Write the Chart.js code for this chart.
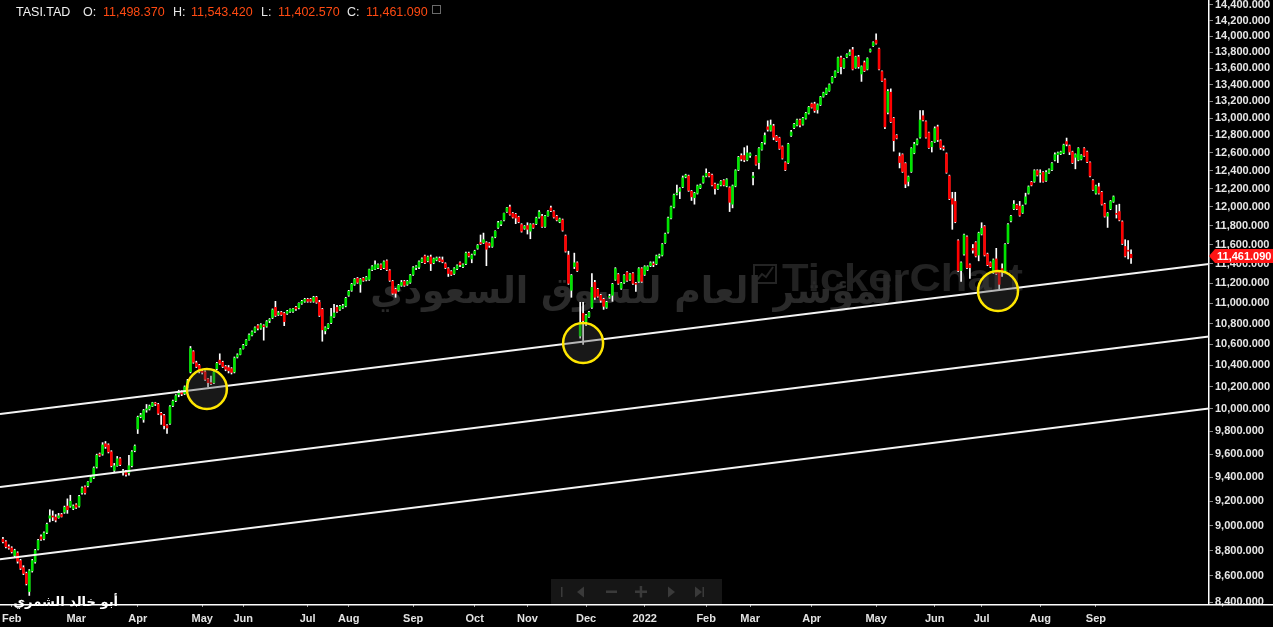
<!DOCTYPE html>
<html>
<head>
<meta charset="utf-8">
<script src="https://cdn.jsdelivr.net/npm/chart.js@4.4.1/dist/chart.umd.min.js"></script>
<style>
  html, body { margin: 0; padding: 0; background: #000; overflow: hidden; }
  canvas { display: block; }
</style>
</head>
<body>
<canvas id="chart" width="1273" height="627"></canvas>
<script>
// daily candles, late Jan 2021 -> mid Sep 2022
var opens = [
  8890, 8870, 8830, 8820, 8760, 8780, 8720, 8665, 8620, 8480,
  8640, 8710, 8810, 8910, 8895, 8945, 9060, 9075, 9070, 9065,
  9090, 9110, 9160, 9160, 9140, 9170, 9160, 9270, 9320, 9330,
  9365, 9400, 9490, 9600, 9600, 9690, 9680, 9620, 9460, 9500,
  9560, 9445, 9450, 9440, 9500, 9630,
  9820, 9930, 9905, 9990, 10000, 10025, 10050, 10040, 9960, 9940,
  9850, 9870, 10030, 10075, 10130, 10150, 10140, 10200, 10340, 10530,
  10425, 10400, 10345,
  10340, 10275, 10240, 10240, 10370, 10450, 10430, 10390, 10380, 10370,
  10340, 10480, 10505, 10560,
  10595, 10645, 10690, 10725, 10780, 10755, 10780, 10775, 10830, 10860,
  10960, 10890, 10910, 10900, 10900, 10920, 10920, 10960, 10955, 11000, 11020, 11040,
  11040, 11020, 11060, 11010, 10940, 10730, 10760, 10810, 10870, 10960, 10940, 10960, 10975, 11080,
  11130, 11190, 11250, 11190, 11250, 11235, 11240, 11340, 11345, 11360, 11390, 11360,
  11430, 11330, 11220, 11140, 11130, 11180, 11220, 11190, 11210, 11290,
  11360, 11365, 11420, 11480, 11430, 11470, 11410, 11440, 11455, 11440,
  11400, 11350, 11320, 11300, 11350, 11410, 11370, 11400,
  11510, 11450, 11500, 11560, 11620, 11620, 11620, 11610, 11580, 11680,
  11780, 11815, 11860, 11950, 12000, 11930, 11920, 11890, 11810, 11770,
  11800, 11740, 11810, 11820, 11890, 11900, 11790, 11905, 11990, 11950,
  11900, 11840, 11860, 11690, 11490, 11130, 11370, 11410, 10680, 10900,
  10820, 10870, 10960, 11210, 11140, 11080, 11040, 10960, 11060, 11080, 11240,
  11290, 11150, 11210, 11310, 11240, 11300, 11200, 11220, 11350,
  11290, 11340, 11380, 11400, 11400, 11480, 11490, 11620, 11730, 11880,
  12000, 12140, 12170, 12220, 12330, 12340, 12170, 12100, 12150, 12210,
  12270, 12340, 12370, 12350, 12250, 12200, 12240, 12290, 12230, 12210,
  12030, 12230, 12410, 12570, 12570, 12520, 12570, 12320,
  12560, 12490, 12640, 12720, 12900, 12860, 12910, 12790, 12770, 12670, 12490, 12490, 12800,
  12890, 12920, 12980, 12930, 13000, 13060, 13170, 13170, 13100, 13160,
  13260, 13290, 13330, 13430, 13500, 13560, 13730, 13610, 13740, 13770,
  13830, 13610, 13740, 13530, 13670, 13590, 13810, 13880, 13950,
  13840, 13560, 13460, 13070, 13310, 13000, 12800, 12560, 12580, 12480,
  12280, 12390, 12600, 12700, 12780, 13030, 12960, 12830, 12670, 12730,
  12900, 12740, 12660, 12590, 12340, 12090, 12060, 11640, 11330, 11500,
  11680, 11390, 11560, 11620, 11490, 11710, 11790, 11500, 11410, 11310,
  11450, 11310, 11350, 11330, 11620, 11850, 11980, 12020, 12010, 11940,
  12040, 12150, 12270, 12280, 12400, 12360, 12380, 12290, 12380, 12410,
  12520, 12580, 12590, 12600, 12730, 12680, 12610, 12550, 12520, 12530,
  12650, 12610, 12490, 12290, 12150, 12220, 12160, 12030, 11900, 11980,
  12060, 11930, 11950, 11840, 11580, 11540, 11498.37
];
var highs = [
  8905, 8880, 8845, 8830, 8810, 8790, 8730, 8680, 8630, 8650,
  8730, 8810, 8890, 8925, 8950, 9020, 9130, 9120, 9090, 9100,
  9100, 9160, 9220, 9250, 9170, 9180, 9250, 9320, 9330, 9365,
  9410, 9490, 9600, 9610, 9700, 9710, 9690, 9630, 9520, 9580,
  9570, 9470, 9460, 9590, 9630, 9680,
  9935, 9960, 9995, 10040, 10035, 10060, 10060, 10050, 9970, 9950,
  9860, 10030, 10080, 10130, 10170, 10165, 10210, 10270, 10580, 10540,
  10440, 10410, 10360,
  10350, 10280, 10300, 10350, 10430, 10510, 10440, 10400, 10400, 10380,
  10480, 10510, 10560, 10600,
  10645, 10700, 10730, 10770, 10790, 10800, 10790, 10830, 10850, 10945,
  11020, 10920, 10920, 10910, 10930, 10945, 10950, 10970, 11005, 11030, 11050, 11050,
  11050, 11070, 11070, 11030, 10950, 10770, 10800, 10950, 10990, 10980, 10980, 10990, 11060, 11130,
  11200, 11250, 11260, 11250, 11260, 11270, 11345, 11380, 11430, 11400, 11400, 11430,
  11440, 11340, 11230, 11150, 11190, 11230, 11230, 11230, 11290, 11370,
  11380, 11430, 11460, 11490, 11480, 11490, 11460, 11470, 11470, 11470,
  11410, 11360, 11330, 11360, 11390, 11420, 11400, 11520,
  11520, 11500, 11540, 11600, 11700, 11720, 11630, 11620, 11680, 11745,
  11845, 11850, 11935, 11995, 12020, 11940, 11930, 11900, 11820, 11800,
  11830, 11820, 11820, 11890, 11960, 11920, 11910, 11960, 12010, 11960,
  11910, 11880, 11870, 11700, 11530, 11290, 11510, 11420, 11010, 11010,
  10890, 10920, 11300, 11230, 11150, 11090, 11050, 11020, 11090, 11200, 11360,
  11300, 11210, 11290, 11320, 11300, 11310, 11210, 11360, 11360,
  11380, 11380, 11420, 11420, 11490, 11500, 11610, 11720, 11890, 12010,
  12140, 12240, 12210, 12340, 12360, 12350, 12180, 12160, 12240, 12250,
  12340, 12420, 12380, 12360, 12260, 12250, 12290, 12300, 12310, 12220,
  12240, 12410, 12560, 12590, 12660, 12680, 12600, 12380,
  12570, 12660, 12720, 12830, 12970, 12980, 12930, 12800, 12780, 12680, 12500, 12710, 12860,
  12940, 12990, 12990, 13010, 13070, 13140, 13180, 13190, 13170, 13260,
  13310, 13360, 13410, 13500, 13570, 13740, 13750, 13720, 13780, 13830,
  13860, 13750, 13760, 13630, 13690, 13730, 13840, 13930, 14030,
  13850, 13570, 13470, 13340, 13350, 13010, 12810, 12600, 12590, 12490,
  12340, 12660, 12720, 12760, 13090, 13090, 12970, 12840, 12730, 12900,
  12920, 12750, 12680, 12600, 12350, 12160, 12160, 11650, 11420, 11710,
  11690, 11400, 11600, 11630, 11730, 11830, 11800, 11510, 11420, 11450,
  11560, 11320, 11400, 11610, 11820, 11910, 12070, 12030, 12060, 12020,
  12150, 12230, 12280, 12410, 12410, 12410, 12390, 12400, 12420, 12490,
  12600, 12610, 12620, 12700, 12770, 12690, 12620, 12590, 12660, 12580,
  12660, 12620, 12500, 12300, 12240, 12260, 12170, 12040, 11940, 12070,
  12120, 12020, 12030, 11850, 11650, 11640, 11543.42
];
var lows = [
  8860, 8820, 8810, 8780, 8750, 8700, 8650, 8610, 8530, 8450,
  8630, 8700, 8805, 8880, 8885, 8935, 9030, 9040, 9030, 9060,
  9070, 9100, 9100, 9150, 9130, 9140, 9150, 9260, 9260, 9320,
  9360, 9390, 9480, 9580, 9590, 9650, 9610, 9490, 9450, 9495,
  9500, 9420, 9410, 9420, 9490, 9620,
  9780, 9920, 9880, 9970, 9990, 10020, 10030, 9950, 9860, 9820,
  9780, 9860, 10020, 10065, 10110, 10120, 10130, 10190, 10330, 10420,
  10380, 10330, 10320,
  10260, 10200, 10220, 10230, 10360, 10410, 10380, 10350, 10330, 10320,
  10330, 10470, 10500, 10555,
  10590, 10640, 10680, 10715, 10740, 10745, 10640, 10765, 10810, 10850,
  10870, 10880, 10880, 10780, 10890, 10910, 10910, 10930, 10945, 10990, 11010, 11010,
  11010, 11010, 11000, 10870, 10630, 10700, 10750, 10800, 10860, 10910, 10930, 10950, 10965, 11070,
  11120, 11180, 11200, 11110, 11220, 11225, 11230, 11330, 11340, 11350, 11340, 11350,
  11330, 11220, 11090, 11060, 11120, 11170, 11170, 11180, 11200, 11280,
  11340, 11350, 11410, 11400, 11420, 11330, 11400, 11430, 11420, 11410,
  11350, 11270, 11280, 11290, 11340, 11370, 11360, 11390,
  11470, 11410, 11490, 11550, 11600, 11610, 11380, 11570, 11570, 11670,
  11770, 11800, 11850, 11940, 11910, 11880, 11820, 11830, 11730, 11760,
  11710, 11660, 11770, 11810, 11880, 11780, 11780, 11900, 11950, 11880,
  11850, 11830, 11740, 11520, 11190, 11060, 11350, 11320, 10660, 10600,
  10780, 10860, 10950, 11040, 11060, 11010, 10940, 10950, 11050, 11020, 11230,
  11190, 11140, 11200, 11220, 11230, 11190, 11120, 11210, 11210,
  11280, 11330, 11370, 11370, 11390, 11460, 11480, 11610, 11720, 11870,
  11990, 12130, 12090, 12210, 12320, 12170, 12070, 12030, 12140, 12200,
  12260, 12330, 12330, 12230, 12140, 12190, 12230, 12230, 12220, 11950,
  11990, 12220, 12400, 12510, 12500, 12510, 12550, 12240,
  12460, 12420, 12630, 12700, 12850, 12850, 12750, 12730, 12640, 12530, 12400, 12480, 12790,
  12880, 12910, 12900, 12920, 12990, 13050, 13120, 13070, 13060, 13150,
  13250, 13280, 13320, 13420, 13490, 13550, 13530, 13600, 13730, 13760,
  13580, 13600, 13600, 13440, 13560, 13580, 13800, 13870, 13900,
  13580, 13440, 12880, 13050, 12950, 12620, 12760, 12430, 12380, 12210,
  12230, 12380, 12590, 12690, 12770, 12970, 12770, 12650, 12610, 12720,
  12730, 12640, 12630, 12370, 12080, 11760, 11830, 11320, 11220, 11490,
  11350, 11250, 11510, 11470, 11430, 11700, 11480, 11380, 11360, 11300,
  11290, 11140, 11270, 11320, 11610, 11840, 11970, 11970, 11900, 11930,
  12030, 12140, 12230, 12270, 12340, 12270, 12270, 12280, 12370, 12400,
  12510, 12490, 12580, 12590, 12680, 12580, 12480, 12420, 12510, 12520,
  12560, 12490, 12330, 12180, 12140, 12140, 12020, 11890, 11780, 11970,
  12050, 11880, 11850, 11600, 11470, 11450, 11402.57
];
var closes = [
  8870, 8830, 8820, 8790, 8800, 8715, 8660, 8620, 8540, 8640,
  8720, 8800, 8880, 8890, 8940, 9010, 9080, 9070, 9045, 9080,
  9075, 9150, 9130, 9200, 9160, 9150, 9240, 9310, 9270, 9360,
  9400, 9480, 9590, 9590, 9680, 9665, 9620, 9500, 9500, 9560,
  9510, 9450, 9425, 9500, 9620, 9670,
  9925, 9945, 9985, 10000, 10025, 10055, 10045, 9960, 9945, 9850,
  9830, 10020, 10070, 10120, 10145, 10135, 10200, 10255, 10560, 10430,
  10390, 10345, 10335,
  10270, 10240, 10230, 10340, 10420, 10420, 10390, 10365, 10350, 10335,
  10470, 10500, 10550, 10590,
  10640, 10690, 10720, 10760, 10755, 10790, 10770, 10820, 10840, 10935,
  10880, 10905, 10890, 10820, 10920, 10940, 10945, 10945, 11000, 11020, 11040, 11020,
  11020, 11060, 11010, 10880, 10740, 10760, 10795, 10870, 10905, 10920, 10970, 10975, 11050, 11120,
  11190, 11240, 11210, 11240, 11230, 11260, 11340, 11370, 11390, 11390, 11350, 11420,
  11340, 11230, 11100, 11100, 11180, 11210, 11180, 11220, 11280, 11360,
  11370, 11420, 11450, 11410, 11470, 11400, 11450, 11460, 11430, 11420,
  11360, 11300, 11290, 11350, 11380, 11390, 11390, 11510,
  11480, 11490, 11530, 11590, 11610, 11650, 11550, 11590, 11670, 11740,
  11830, 11845, 11930, 11990, 11920, 11890, 11880, 11840, 11740, 11790,
  11760, 11810, 11780, 11880, 11945, 11790, 11900, 11950, 11960, 11890,
  11860, 11870, 11750, 11530, 11200, 11280, 11410, 11330, 10810, 10830,
  10880, 10910, 11160, 11060, 11070, 11030, 10970, 11010, 11070, 11190, 11350,
  11200, 11200, 11280, 11230, 11290, 11200, 11190, 11350, 11220,
  11370, 11370, 11410, 11390, 11480, 11490, 11600, 11710, 11880, 12000,
  12130, 12150, 12200, 12320, 12350, 12180, 12110, 12150, 12230, 12240,
  12330, 12370, 12340, 12240, 12200, 12240, 12280, 12240, 12300, 12050,
  12230, 12400, 12550, 12530, 12520, 12600, 12590, 12340,
  12470, 12650, 12710, 12800, 12870, 12920, 12780, 12740, 12650, 12540, 12410, 12700, 12840,
  12930, 12980, 12920, 13000, 13060, 13130, 13130, 13090, 13160, 13250,
  13300, 13350, 13400, 13490, 13560, 13730, 13620, 13710, 13770, 13800,
  13590, 13740, 13620, 13620, 13570, 13720, 13830, 13920, 13910,
  13590, 13450, 12900, 13320, 12960, 12740, 12770, 12490, 12390, 12250,
  12330, 12650, 12700, 12750, 12980, 12980, 12780, 12660, 12720, 12880,
  12750, 12660, 12650, 12380, 12090, 12030, 11840, 11330, 11410, 11700,
  11360, 11360, 11540, 11480, 11720, 11770, 11490, 11390, 11370, 11440,
  11300, 11190, 11330, 11600, 11810, 11900, 12030, 11980, 11910, 12010,
  12110, 12220, 12240, 12400, 12350, 12370, 12280, 12380, 12410, 12480,
  12580, 12600, 12610, 12690, 12700, 12610, 12490, 12580, 12650, 12570,
  12570, 12500, 12340, 12190, 12230, 12150, 12030, 11900, 11930, 12060,
  12110, 11920, 11860, 11610, 11480, 11530, 11461.09
];

// month labels on the time axis (candle index where each month starts)
var monthTicks = [3, 25, 46, 68, 82, 104, 118, 140, 161, 179, 199, 219, 240, 255, 276, 298, 318, 334, 354, 373];
var monthLabels = ['Feb', 'Mar', 'Apr', 'May', 'Jun', 'Jul', 'Aug', 'Sep', 'Oct', 'Nov', 'Dec', '2022',
                   'Feb', 'Mar', 'Apr', 'May', 'Jun', 'Jul', 'Aug', 'Sep'];

// price axis labels
var priceTicks = [8400, 8600, 8800, 9000, 9200, 9400, 9600, 9800, 10000, 10200, 10400, 10600,
                  10800, 11000, 11200, 11400, 11600, 11800, 12000, 12200, 12400, 12600, 12800,
                  13000, 13200, 13400, 13600, 13800, 14000, 14200, 14400];

// parallel channel lines (index, price at both ends)
var channelX = [-1, 411.6];
var channelTop = [9955, 11397];
var channelMid = [9320, 10676];
var channelLow = [8731, 10003];

// yellow circles where price touched the upper channel line
var touchX = [69.6, 198, 339.6];
var touchY = [10181, 10613, 11123];

var legendVals = ['11,498.370', '11,543.420', '11,402.570', '11,461.090'];

//build the chart data
var fmt = function (v) {
    return v.toLocaleString('en-US', { minimumFractionDigits: 3, maximumFractionDigits: 3 });
};
var wicks = [], bodies = [], bodyColours = [];
for (var i = 0; i < closes.length; i++) {
    wicks.push({ x: i, y: [lows[i], highs[i]] });
    bodies.push({ x: i, y: [opens[i], closes[i]] });
    bodyColours.push(closes[i] >= opens[i] ? '#00e400' : '#ff0000');
}
function channel(arr) {
    return channelX.map(function (x, k) { return { x: x, y: arr[k] }; });
}
var touches = touchX.map(function (x, k) { return { x: x, y: touchY[k] }; });

function fitSize(ctx, text, weight, family, width) {
    ctx.font = weight + ' 40px "' + family + '"';
    return 40 * width / ctx.measureText(text).width;
}

var overlay = {
    id: 'overlay',
    beforeDatasetsDraw: function (chart) {
        var ctx = chart.ctx;
        ctx.save();
        // TickerChart watermark
        ctx.strokeStyle = '#242424';
        ctx.lineWidth = 2;
        ctx.strokeRect(754, 265, 22, 18);
        ctx.beginPath();
        ctx.moveTo(757, 280); ctx.lineTo(762, 274); ctx.lineTo(766, 277); ctx.lineTo(773, 267);
        ctx.stroke();
        var s = fitSize(ctx, 'TickerChart', 'bold', 'Liberation Sans', 241);
        ctx.font = 'bold ' + Math.min(s, 38) + 'px "Liberation Sans"';
        var w = ctx.measureText('TickerChart').width;
        ctx.translate(782, 291);
        ctx.scale(241 / w, 1);
        ctx.fillStyle = '#222222';
        ctx.textBaseline = 'alphabetic';
        ctx.fillText('TickerChart', 0, 0);
        ctx.setTransform(1, 0, 0, 1, 0, 0);
        // arabic watermark
        var txt = 'المؤشر العام للسوق السعودي';
        var as = fitSize(ctx, txt, 'bold', 'DejaVu Sans', 535);
        ctx.font = 'bold ' + as + 'px "DejaVu Sans"';
        ctx.fillStyle = '#2a2a2a';
        ctx.direction = 'rtl';
        ctx.textAlign = 'right';
        ctx.fillText(txt, 905, 303);
        ctx.restore();
    },
    afterDraw: function (chart) {
        var ctx = chart.ctx, a = chart.chartArea, y = chart.scales.y;
        ctx.save();
        // bottom axis line across the whole width
        ctx.strokeStyle = '#ffffff';
        ctx.lineWidth = 1.5;
        ctx.beginPath();
        ctx.moveTo(0, a.bottom + 0.75);
        ctx.lineTo(chart.width, a.bottom + 0.75);
        ctx.stroke();

        // last price tag
        var last = closes.length - 1;
        var py = Math.round(y.getPixelForValue(closes[last])) - 2;
        ctx.fillStyle = '#ff1414';
        ctx.beginPath();
        ctx.moveTo(a.right, py);
        ctx.lineTo(a.right + 6, py - 7);
        ctx.lineTo(chart.width, py - 7);
        ctx.lineTo(chart.width, py + 7);
        ctx.lineTo(a.right + 6, py + 7);
        ctx.closePath();
        ctx.fill();
        ctx.fillStyle = '#ffffff';
        ctx.font = 'bold 11px "Liberation Sans"';
        ctx.textBaseline = 'middle';
        ctx.textAlign = 'left';
        ctx.fillText(fmt(closes[last]), a.right + 8, py + 0.5);

        // legend line
        ctx.font = '12.5px "Liberation Sans"';
        ctx.textBaseline = 'alphabetic';
        ctx.fillStyle = '#f2f2f2';
        ctx.fillText('TASI.TAD', 16, 16);
        var keys = ['O:', 'H:', 'L:', 'C:'];
        var kx = [83, 173, 261, 347], vx = [103, 191, 278, 366];
        for (var k = 0; k < 4; k++) {
            ctx.fillStyle = '#e8e8e8';
            ctx.fillText(keys[k], kx[k], 16);
            ctx.fillStyle = '#ff4a12';
            ctx.fillText(legendVals[k], vx[k], 16);
        }
        ctx.strokeStyle = '#6a6a6a';
        ctx.lineWidth = 1;
        ctx.strokeRect(432.5, 5.5, 8, 8);

        // navigation bar
        ctx.fillStyle = '#161616';
        ctx.fillRect(551, 579, 171, 25);
        ctx.fillStyle = '#3a3a3a';
        ctx.fillRect(561, 587, 1.5, 10);
        ctx.beginPath(); ctx.moveTo(577, 592); ctx.lineTo(584, 586.5); ctx.lineTo(584, 597.5); ctx.fill();
        ctx.fillRect(606, 590.5, 11, 2.5);
        ctx.fillRect(635, 590.5, 12, 2.5);
        ctx.fillRect(639.7, 586, 2.5, 11.5);
        ctx.beginPath(); ctx.moveTo(675, 592); ctx.lineTo(668, 586.5); ctx.lineTo(668, 597.5); ctx.fill();
        ctx.beginPath(); ctx.moveTo(702, 592); ctx.lineTo(695, 586.5); ctx.lineTo(695, 597.5); ctx.fill();
        ctx.fillRect(702.5, 587, 1.5, 10);

        // signature
        var sig = 'أبو خالد الشمري';
        var ss = fitSize(ctx, sig, 'bold', 'DejaVu Sans', 105);
        ctx.font = 'bold ' + ss + 'px "DejaVu Sans"';
        ctx.fillStyle = '#ffffff';
        ctx.direction = 'rtl';
        ctx.textAlign = 'right';
        ctx.fillText(sig, 118, 606);
        ctx.restore();
    }
};

var tickFont = { family: 'Liberation Sans', size: 11, weight: 'bold' };

var ctx = document.getElementById('chart').getContext('2d');
var myChart = new Chart(ctx, {
    type: 'bar',
    data: {
        datasets: [
            {
                type: 'scatter',
                data: touches,
                order: 0,
                pointRadius: 20,
                pointHoverRadius: 20,
                pointBorderWidth: 2.5,
                pointBorderColor: '#ffe600',
                pointBackgroundColor: 'rgba(70,70,70,0.35)'
            },
            { type: 'line', data: channel(channelTop), order: 1, borderColor: '#f4f4f4', borderWidth: 2, pointRadius: 0 },
            { type: 'line', data: channel(channelMid), order: 1, borderColor: '#f4f4f4', borderWidth: 2, pointRadius: 0 },
            { type: 'line', data: channel(channelLow), order: 1, borderColor: '#f4f4f4', borderWidth: 2, pointRadius: 0 },
            {
                data: bodies,
                order: 2,
                backgroundColor: bodyColours,
                borderWidth: 0,
                barThickness: 2,
                minBarLength: 1,
                grouped: false
            },
            {
                data: wicks,
                order: 3,
                backgroundColor: '#ffffff',
                borderWidth: 0,
                barThickness: 1,
                grouped: false
            }
        ]
    },
    options: {
        responsive: false,
        animation: false,
        events: [],
        layout: { padding: 0, autoPadding: false },
        plugins: { legend: { display: false }, tooltip: { enabled: false } },
        scales: {
            x: {
                type: 'linear',
                min: -1,
                max: 411.6,
                offset: false,
                grid: { offset: false, drawOnChartArea: false, drawTicks: true, tickLength: 3, color: '#9a9a9a' },
                border: { display: false },
                ticks: {
                    autoSkip: false, maxRotation: 0, color: '#e2e2e2', padding: 5, font: tickFont,
                    callback: function (v) { return monthLabels[monthTicks.indexOf(v)]; }
                },
                afterBuildTicks: function (s) { s.ticks = monthTicks.map(function (v) { return { value: v }; }); },
                afterFit: function (s) { s.height = 23; s.paddingLeft = 0; s.paddingRight = 0; }
            },
            y: {
                type: 'logarithmic',
                position: 'right',
                min: 8385,
                max: 14465,
                grid: { drawOnChartArea: false, drawTicks: true, tickLength: 4, color: '#8a8a8a' },
                border: { display: true, color: '#ffffff', width: 1.5 },
                ticks: {
                    autoSkip: false, color: '#e6e6e6', padding: 2, font: tickFont,
                    callback: function (v) { return fmt(v); }
                },
                afterBuildTicks: function (s) { s.ticks = priceTicks.map(function (v) { return { value: v }; }); },
                afterFit: function (s) { s.width = 64; s.paddingTop = 0; s.paddingBottom = 0; }
            }
        }
    },
    plugins: [overlay]
});
</script>
</body>
</html>
